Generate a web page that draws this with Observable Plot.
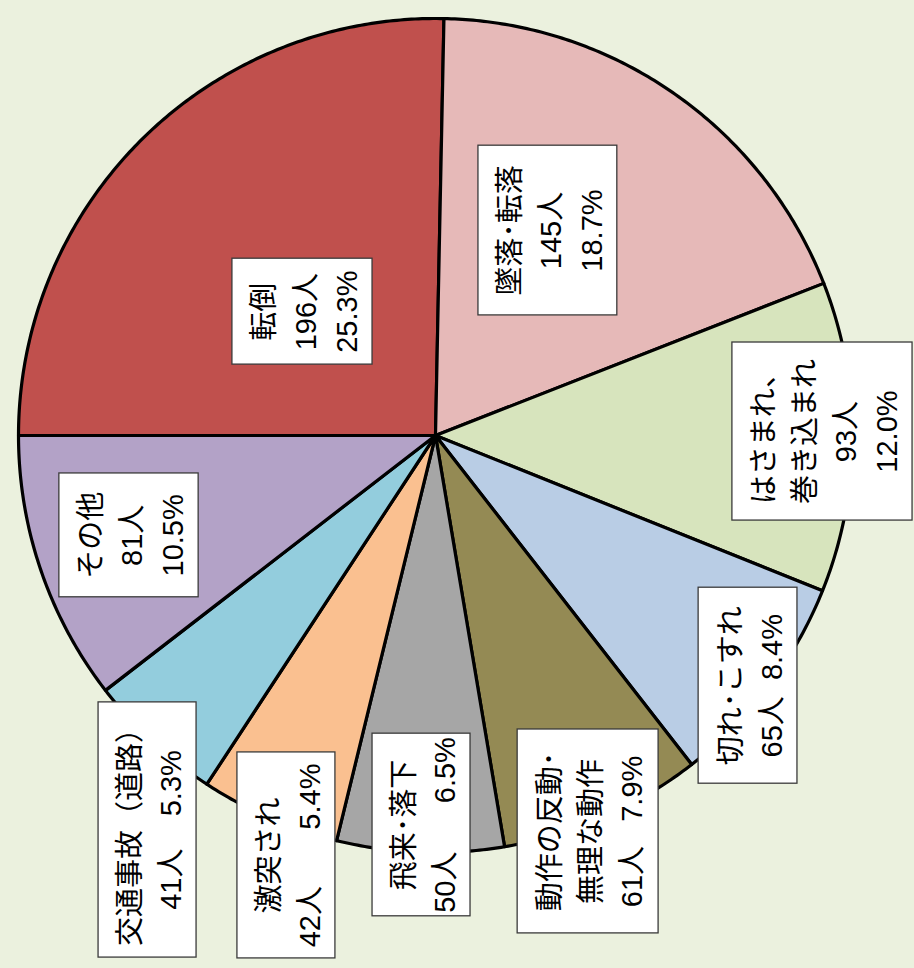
<!DOCTYPE html>
<html><head><meta charset="utf-8">
<script src="https://cdn.jsdelivr.net/npm/d3@7"></script>
<script src="https://cdn.jsdelivr.net/npm/@observablehq/plot@0.6"></script>
<style>
html,body{margin:0;padding:0;background:#EBF1DE;}
#chart{width:914px;height:968px;}
</style></head><body><div id="chart"></div>
<script>
// ---- data ----
const categories = ["転倒","墜落･転落","はさまれ、巻き込まれ","切れ･こすれ","動作の反動･無理な動作","飛来･落下","激突され","交通事故（道路）","その他"];
const counts = [196,145,93,65,61,50,42,41,81];
const percents = [25.3,18.7,12.0,8.4,7.9,6.5,5.4,5.3,10.5];
const colors = ["#C0504D","#E6B9B8","#D7E4BD","#B9CDE5","#948A54","#A6A6A6","#FAC090","#93CDDD","#B3A2C7"];

// ---- label layout (radius units; pie radius = 1) ----
const nameBreaks = [0,0,5,0,6,0,0,0,0];       // wrap category name after n chars (0 = none)
const valueGaps  = [-1,-1,-1,2,3,6,7,4,-1];    // -1: percent on own line, else NBSP count
const labelBoxes = [
  [-0.487,-0.151, 0.424, 0.170],
  [ 0.103, 0.436, 0.695, 0.288],
  [ 0.712, 1.144, 0.223,-0.204],
  [ 0.631, 0.868,-0.365,-0.835],
  [ 0.197, 0.535,-0.705,-1.194],
  [-0.151, 0.084,-0.715,-1.153],
  [-0.475,-0.240,-0.760,-1.254],
  [-0.808,-0.573,-0.640,-1.252],
  [-0.902,-0.568,-0.091,-0.388]
];

// ---- build slices ----
const arcs = d3.pie().sort(null).startAngle(1.5*Math.PI).endAngle(3.5*Math.PI)(counts);
const slicePts = [];
arcs.forEach((a, i) => {
  slicePts.push({i, cat: categories[i], x: 0, y: 0});
  const n = Math.max(2, Math.ceil((a.endAngle - a.startAngle) / (Math.PI/360)));
  for (let k = 0; k <= n; k++) {
    const t = a.startAngle + (a.endAngle - a.startAngle) * k / n;
    slicePts.push({i, cat: categories[i], x: Math.sin(t), y: Math.cos(t)});
  }
});

const labels = categories.map((c, i) => {
  let name = nameBreaks[i] ? c.slice(0, nameBreaks[i]) + "\n" + c.slice(nameBreaks[i]) : c;
  const cnt = `${counts[i]}人`, pct = `${percents[i].toFixed(1)}%`;
  const vals = valueGaps[i] < 0 ? cnt + "\n" + pct : cnt + "\u00A0".repeat(valueGaps[i]) + pct;
  const [x1,x2,y1,y2] = labelBoxes[i];
  return {text: name + "\n" + vals, x1, x2, y1, y2, cx: (x1+x2)/2, cy: (y1+y2)/2};
});

const R = 417, CX = 435, CY = 435;
const chart = Plot.plot({
  width: 914, height: 968,
  margin: 0,
  style: {background: "transparent"},
  x: {domain: [-1, 1], range: [CX - R, CX + R], axis: null},
  y: {domain: [-1, 1], range: [CY + R, CY - R], axis: null},
  color: {domain: categories, range: colors},
  marks: [
    Plot.line(slicePts, {x: "x", y: "y", z: "i", fill: "cat", stroke: "black", strokeWidth: 3.2, strokeLinejoin: "round", curve: "linear-closed"}),
    Plot.rect(labels, {x1: "x1", x2: "x2", y1: "y1", y2: "y2", fill: "white", stroke: "#3a3a3a", strokeWidth: 1.3}),
    Plot.text(labels, {x: "cx", y: "cy", text: "text", rotate: -90, fontSize: 29, lineHeight: 1.42,
      fontFamily: "'Liberation Sans','Noto Sans CJK JP',sans-serif", fill: "black"})
  ]
});
document.getElementById("chart").appendChild(chart);
</script></body></html>
